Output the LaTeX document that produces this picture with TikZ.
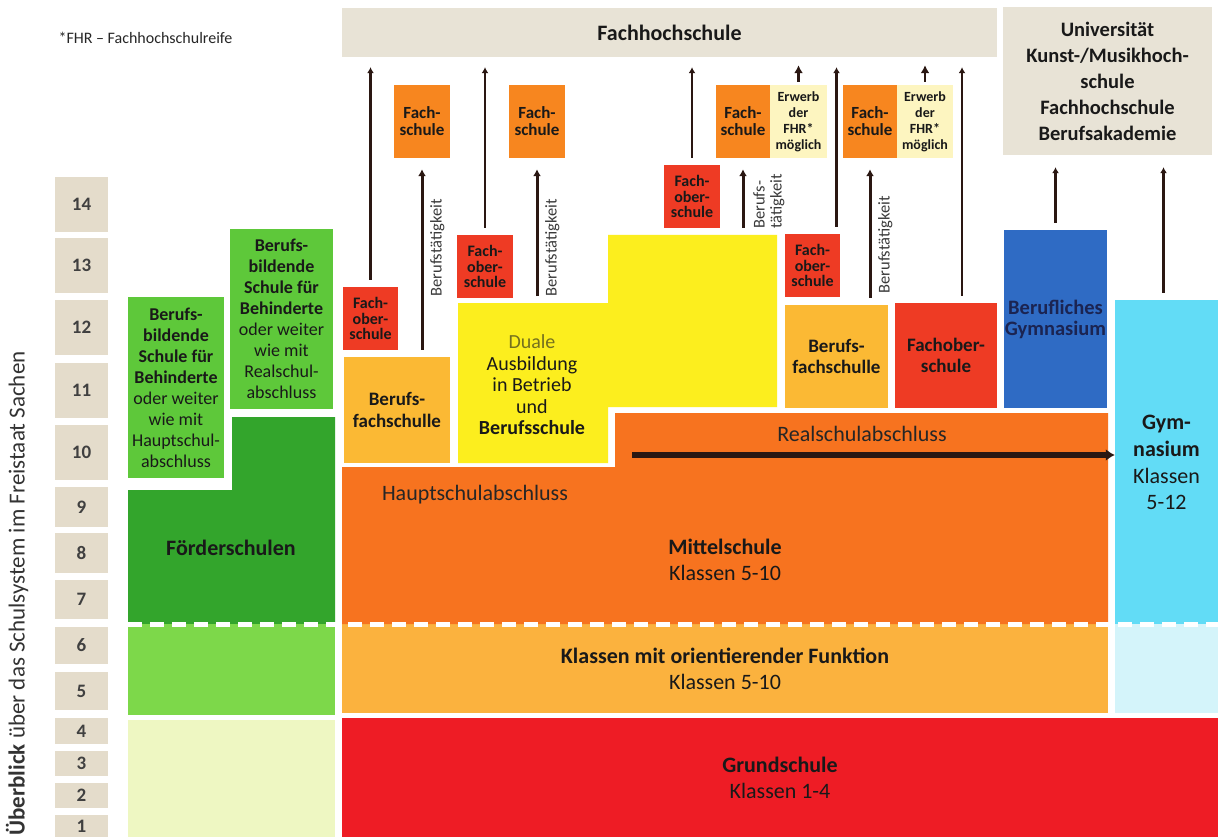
\documentclass[tikz,border=0pt]{standalone}
\usepackage{fontspec}
\setmainfont{Carlito}
\usetikzlibrary{arrows.meta}

% farben
\definecolor{hsBeige}{HTML}{E8E3D6}
\definecolor{klBeige}{HTML}{E4DCCB}
\definecolor{fsOrange}{HTML}{F7861F}
\definecolor{fosRot}{HTML}{EE3B24}
\definecolor{fhrGelb}{HTML}{FDF5C0}
\definecolor{dualGelb}{HTML}{FCEE1E}
\definecolor{bfsOrange}{HTML}{FBB934}
\definecolor{msOrange}{HTML}{F7731F}
\definecolor{orOrange}{HTML}{FBB23E}
\definecolor{gsRot}{HTML}{EE1C25}
\definecolor{bgBlau}{HTML}{2F6BC4}
\definecolor{gymCyan}{HTML}{62DCF6}
\definecolor{gymHell}{HTML}{D4F4FA}
\definecolor{foeGruen}{HTML}{33A52C}
\definecolor{bbsGruen}{HTML}{5EC83A}
\definecolor{gruenMittel}{HTML}{7DD84A}
\definecolor{gruenHell}{HTML}{EEF7C2}
\definecolor{pfeil}{HTML}{2A1712}
\definecolor{dualText}{HTML}{74701E}
\definecolor{btGrau}{HTML}{3A3A3A}
\definecolor{bgText}{HTML}{1B2452}

\newcommand{\grossSty}{\fontsize{22}{26}\selectfont}
\newcommand{\uniSty}{\fontsize{20.5}{26}\selectfont}
\newcommand{\mittelSty}{\fontsize{19}{21.5}\selectfont}
\newcommand{\dualSty}{\fontsize{20}{21.5}\selectfont}
\newcommand{\gruenSty}{\fontsize{18}{21}\selectfont}
\newcommand{\fsSty}{\fontsize{17}{17}\selectfont}
\newcommand{\fosSty}{\fontsize{16}{15.5}\selectfont}
\newcommand{\fhrSty}{\fontsize{14}{16}\selectfont}
\newcommand{\btSty}{\fontsize{16.5}{17}\selectfont}
\newcommand{\titelSty}{\fontsize{23}{26}\selectfont}

\tikzset{
	feld/.style 2 args={inner sep=0pt, align=center, text=black!90, minimum width=#1, minimum height=#2},
	klasse/.style={inner sep=0pt, fill=klBeige, minimum width=53pt, font=\fontsize{19}{20}\selectfont\bfseries, text=black!75},
	langPfeil/.style={draw=pfeil, line width=2.5pt, -{Latex[length=6pt,width=7pt]}, shorten <=7pt, shorten >=10pt},
	kurzPfeil/.style={draw=pfeil, line width=2.5pt, -{Latex[length=8pt,width=9pt]}, shorten <=3pt, shorten >=8pt},
	btPfeil/.style={draw=pfeil, line width=3pt, -{Latex[length=7pt,width=8pt]}, shorten <=7pt, shorten >=11pt},
	btText/.style={rotate=90, inner sep=0pt, font=\btSty, text=btGrau}
}

\begin{document}
\begin{tikzpicture}[x=1pt, y=-1pt]

		% page
		\fill[white] (0,0) rectangle (1218,837);
		\useasboundingbox (0,0) rectangle (1218,837);

		% footnote
		\node[anchor=west, font=\fontsize{16}{18}\selectfont, text=black!85] (fhrnote) at (55,38) {*FHR – Fachhochschulreife};

		% title
		\node[rotate=90, anchor=west, font=\titelSty, text=black!80] (titel) at (17,839) {\textbf{Überblick} über das Schulsystem im Freistaat Sachen};

		% Klassenstufen
		\foreach \n/\oben/\unten in {14/177/232,13/238/293,12/300/355,11/363/418,10/425/480,9/487/527,8/533/573,7/580/619,6/627/664,5/672/710,4/718/744,3/751/776,2/783/808,1/815/837}
			\node[klasse, minimum height={\unten-\oben}] (k\n) at (81.5,{(\oben+\unten)/2}) {\n};

		% Hochschulen
		\node[feld={655pt}{49pt}, fill=hsBeige, font=\grossSty\bfseries] (fhs) at (669.5,32.5) {Fachhochschule};
		\node[feld={209pt}{148pt}, fill=hsBeige, font=\uniSty\bfseries] (uni) at (1107.5,81) {Universität\\Kunst-/Musikhoch-\\schule\\Fachhochschule\\Berufsakademie};

		% Foerderschulen
		\fill[foeGruen] (128,490) -- (232,490) -- (232,417) -- (335,417) -- (335,624) -- (128,624) -- cycle;
		\node[font=\grossSty\bfseries, text=black!90] (foe) at (231,548) {Förderschulen};
		\node[feld={96pt}{181pt}, fill=bbsGruen, font=\gruenSty] (bbs1) at (176,387.5) {\textbf{Berufs-}\\\textbf{bildende}\\\textbf{Schule für}\\\textbf{Behinderte}\\oder weiter\\wie mit\\Hauptschul-\\abschluss};
		\node[feld={103pt}{180pt}, fill=bbsGruen, font=\gruenSty] (bbs2) at (281.5,319) {\textbf{Berufs-}\\\textbf{bildende}\\\textbf{Schule für}\\\textbf{Behinderte}\\oder weiter\\wie mit\\Realschul-\\abschluss};
		\node[feld={207pt}{91pt}, fill=gruenMittel] (gr56) at (231.5,669.5) {};
		\node[feld={207pt}{117pt}, fill=gruenHell] (gr14) at (231.5,778.5) {};

		% Grundschule
		\node[feld={876pt}{119pt}, fill=gsRot, font=\grossSty] (gs) at (780,777.5) {\textbf{Grundschule}\\Klassen 1-4};

		% Klassen 5/6
		\node[feld={766pt}{89pt}, fill=orOrange, font=\grossSty] (orient) at (725,668.5) {\textbf{Klassen mit orientierender Funktion}\\Klassen 5-10};
		\node[feld={103pt}{89pt}, fill=gymHell] (gym56) at (1166.5,668.5) {};

		% Mittelschule
		\fill[msOrange] (342,467) -- (615,467) -- (615,413) -- (1108,413) -- (1108,624) -- (342,624) -- cycle;
		\node[align=center, font=\grossSty, text=black!90] (ms) at (725,560) {\textbf{Mittelschule}\\Klassen 5-10};
		\node[font=\grossSty, text=black!85] (hsa) at (475,495) {Hauptschulabschluss};
		\node[font=\grossSty, text=black!85] (rsa) at (862,434) {Realschulabschluss};

		% Gymnasium
		\node[feld={103pt}{324pt}, fill=gymCyan, font=\grossSty] (gym) at (1166.5,462) {\textbf{Gym-}\\[1pt]\textbf{nasium}\\[1pt]Klassen\\5-12};

		% white dashes
		\draw[white, line width=5pt, dash pattern=on 14pt off 8pt] (128,624) -- (1218,624);

		% duale Ausbildung
		\fill[dualGelb] (458,303) coordinate (dualNW) -- (608,303) -- (608,235) coordinate (dualTop) -- (777,235) -- (777,407) -- (608,407) -- (608,463) -- (458,463) -- cycle;
		\node[align=center, font=\dualSty, text=black!90] (dual) at (532,385) {\textcolor{dualText}{Duale}\\Ausbildung\\in Betrieb\\und\\\textbf{Berufsschule}};

		% Sekundarstufe II
		\node[feld={106pt}{106pt}, fill=bfsOrange, font=\mittelSty\bfseries] (bfs1) at (397,410) {Berufs-\\fachschulle};
		\node[feld={103pt}{103pt}, fill=bfsOrange, font=\mittelSty\bfseries] (bfs2) at (836.5,356.5) {Berufs-\\fachschulle};
		\node[feld={102pt}{105pt}, fill=fosRot, font=\mittelSty\bfseries] (fob) at (946,355.5) {Fachober-\\schule};
		\node[feld={103pt}{178pt}, fill=bgBlau, font=\fontsize{20.5}{21}\selectfont\bfseries, text=bgText] (bgym) at (1055.5,319) {Berufliches\\Gymnasium};

		% Fachoberschulen
		\node[feld={55pt}{63pt}, fill=fosRot, font=\fosSty\bfseries] (fos1) at (370.5,318.5) {Fach-\\ober-\\schule};
		\node[feld={56pt}{63pt}, fill=fosRot, font=\fosSty\bfseries] (fos2) at (485,266.5) {Fach-\\ober-\\schule};
		\node[feld={56pt}{63pt}, fill=fosRot, font=\fosSty\bfseries] (fos3) at (692,196.5) {Fach-\\ober-\\schule};
		\node[feld={55pt}{63pt}, fill=fosRot, font=\fosSty\bfseries] (fos4) at (812.5,265.5) {Fach-\\ober-\\schule};

		% Fachschulen
		\node[feld={56pt}{73pt}, fill=fsOrange, font=\fsSty\bfseries] (fs1) at (422,121.5) {Fach-\\schule};
		\node[feld={56pt}{73pt}, fill=fsOrange, font=\fsSty\bfseries] (fs2) at (537,121.5) {Fach-\\schule};
		\node[feld={54pt}{73pt}, fill=fsOrange, font=\fsSty\bfseries] (fs3) at (743,121.5) {Fach-\\schule};
		\node[feld={54pt}{73pt}, fill=fsOrange, font=\fsSty\bfseries] (fs4) at (870,121.5) {Fach-\\schule};
		\node[feld={57pt}{73pt}, fill=fhrGelb, font=\fhrSty\bfseries] (fhr3) at (798.5,121.5) {Erwerb\\der\\FHR*\\möglich};
		\node[feld={56pt}{73pt}, fill=fhrGelb, font=\fhrSty\bfseries] (fhr4) at (925,121.5) {Erwerb\\der\\FHR*\\möglich};

		% arrows to Fachhochschule
		\draw[langPfeil] (fos1.north) -- (fos1.north |- fhs.south);
		\draw[langPfeil] (fos2.north) -- (fos2.north |- fhs.south);
		\draw[langPfeil] (fos3.north) -- (fos3.north |- fhs.south);
		\draw[langPfeil] (fos4.north -| bfs2.north) -- (bfs2.north |- fhs.south);
		\draw[langPfeil] ([xshift=16pt]fob.north) -- ([xshift=16pt]fob.north |- fhs.south);
		\draw[kurzPfeil] (fhr3.north) -- (fhr3.north |- fhs.south);
		\draw[kurzPfeil] (fhr4.north) -- (fhr4.north |- fhs.south);

		% arrows to Universitaet
		\draw[langPfeil, shorten >=12pt] (bgym.north) -- (bgym.north |- uni.south);
		\draw[langPfeil, shorten >=12pt] ([xshift=-3pt]gym.north) -- ([xshift=-3pt]gym.north |- uni.south);

		% Berufstaetigkeit
		\draw[btPfeil] (fs1.south |- bfs1.north) -- (fs1.south);
		\draw[btPfeil] (fs2.south |- dualNW) -- (fs2.south);
		\draw[btPfeil] (fs3.south |- dualTop) -- (fs3.south);
		\draw[btPfeil] (fs4.south |- bfs2.north) -- (fs4.south);
		\node[btText, anchor=north] (bt1) at (430,248) {Berufstätigkeit};
		\node[btText, anchor=north] (bt2) at (545,248) {Berufstätigkeit};
		\node[btText, anchor=north west, align=left] (bt3) at (753,229) {Berufs-\\tätigkeit};
		\node[btText, anchor=north] (bt4) at (878,245) {Berufstätigkeit};

		% Realschulabschluss
		\coordinate (rsStart) at (632,455);
		\draw[draw=pfeil, line width=6pt, -{Latex[length=9pt,width=12pt]}] (rsStart) -- (gym.west |- rsStart);

\end{tikzpicture}
\end{document}
